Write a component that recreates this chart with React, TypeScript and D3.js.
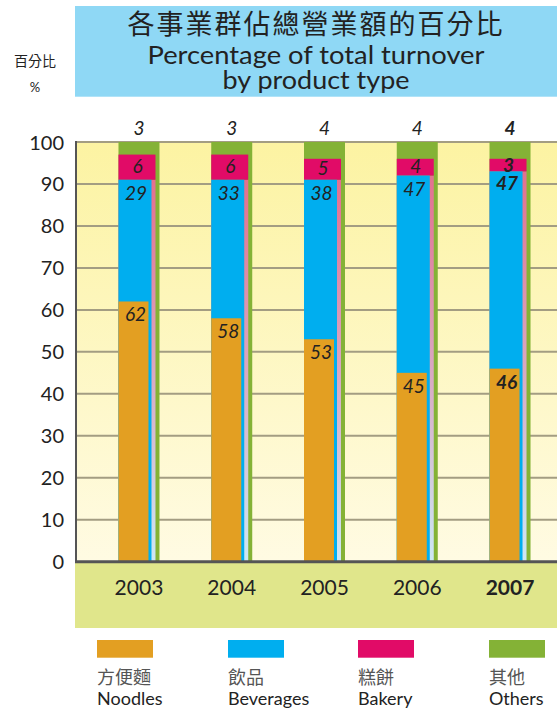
import React from 'react';
import * as d3 from 'd3';

const years = ["2003", "2004", "2005", "2006", "2007"];
const noodles = [62, 58, 53, 45, 46];
const beverages = [29, 33, 38, 47, 47];
const bakery = [6, 6, 5, 4, 3];
const others = [3, 3, 4, 4, 4];
const yTicks = [0, 10, 20, 30, 40, 50, 60, 70, 80, 90, 100];

const legendItems = [
  { zh: "方便麵", en: "Noodles", color: "#e39f22" },
  { zh: "飲品", en: "Beverages", color: "#00aeef" },
  { zh: "糕餅", en: "Bakery", color: "#e10b67" },
  { zh: "其他", en: "Others", color: "#84b236" }
];

const W = 557;
const H = 722;
const FONT = "Lato, 'Open Sans', sans-serif";
const CJK = "'Noto Sans CJK TC', 'Noto Sans CJK SC', sans-serif";

const App: React.FC = () => {
  const axisX = 76;
  const y = d3.scaleLinear().domain([0, 100]).range([561.7, 142]);
  const x = d3.scaleBand().domain(years).range([92.6, 556.4]);
  const step = x.step();
  const greenW = 41, pinkW = 37, blueW = 33, orangeW = 30;
  const barLeft = (yr: string) => (x(yr) as number) + (step - greenW) / 2;

  return (
    <div style={{ position: 'absolute', left: 0, top: 0 }}>
      <svg width={W} height={H} style={{ display: 'block', background: '#fff' }}>
        <defs>
          <linearGradient id="plotBg" x1="0" y1="0" x2="0" y2="1">
            <stop offset="0" stopColor="#fcf3a2" />
            <stop offset="1" stopColor="#fffbe3" />
          </linearGradient>
          <linearGradient id="pinkFade" x1="0" y1="0" x2="0" y2="1">
            <stop offset="0" stopColor="#e3708f" />
            <stop offset="0.5" stopColor="#d9a8c2" />
            <stop offset="1" stopColor="#cde8f5" />
          </linearGradient>
        </defs>

        {/* title box */}
        <rect x={75} y={6} width={W - 75} height={90.7} fill="#8fd8f5" />
        <text x={316} y={34} textAnchor="middle" fontFamily={CJK} fontSize={27}
          letterSpacing={2} fill="#222">各事業群佔總營業額的百分比</text>
        <text x={316} y={64} textAnchor="middle" fontFamily={FONT} fontSize={25}
          textLength={337} lengthAdjust="spacingAndGlyphs" fill="#222">Percentage of total turnover</text>
        <text x={316} y={89} textAnchor="middle" fontFamily={FONT} fontSize={25}
          textLength={187} lengthAdjust="spacingAndGlyphs" fill="#222">by product type</text>

        {/* y axis title */}
        <text x={35} y={66} textAnchor="middle" fontFamily={CJK} fontSize={14} fill="#222">百分比</text>
        <text x={35} y={92} textAnchor="middle" fontFamily={FONT} fontSize={13} fill="#222">%</text>

        {/* plot background */}
        <rect x={axisX} y={y(100)} width={W - axisX} height={y(0) - y(100)} fill="url(#plotBg)" />
        {/* bottom band */}
        <rect x={75} y={y(0)} width={W - 75} height={628 - y(0)} fill="#e0e68b" />

        {/* grid lines */}
        {yTicks.filter(t => t > 0).map(t => (
          <line key={t} x1={axisX} x2={W} y1={y(t)} y2={y(t)} stroke="#a39d82" strokeWidth={2} />
        ))}

        {/* y tick labels */}
        {yTicks.map(t => (
          <text key={t} x={64} y={y(t) + 7.5} textAnchor="end" fontFamily={FONT}
            fontSize={20} fill="#222">{t}</text>
        ))}

        {/* bars */}
        {years.map((yr, i) => {
          const L = barLeft(yr);
          const bevTop = noodles[i] + beverages[i];
          const bakTop = bevTop + bakery[i];
          const total = bakTop + others[i];
          return (
            <g key={yr}>
              <rect x={L} y={y(total)} width={greenW} height={y(0) - y(total)} fill="#84b236" />
              <rect x={L} y={y(bevTop)} width={pinkW} height={y(0) - y(bevTop)} fill="url(#pinkFade)" />
              <rect x={L} y={y(bakTop)} width={pinkW} height={y(bevTop) - y(bakTop)} fill="#e10b67" />
              <rect x={L} y={y(bevTop)} width={blueW} height={y(0) - y(bevTop)} fill="#00aeef" />
              <rect x={L} y={y(noodles[i])} width={orangeW} height={y(0) - y(noodles[i])} fill="#e39f22" />
            </g>
          );
        })}

        {/* axes */}
        <line x1={axisX} x2={axisX} y1={y(100) - 1} y2={y(0)} stroke="#555" strokeWidth={2} />
        <line x1={axisX - 1} x2={W} y1={y(0)} y2={y(0)} stroke="#555" strokeWidth={3} />

        {/* value labels */}
        {years.map((yr, i) => {
          const L = barLeft(yr);
          const bevTop = noodles[i] + beverages[i];
          const bakTop = bevTop + bakery[i];
          const total = bakTop + others[i];
          const last = i === years.length - 1;
          const common = {
            fontFamily: FONT, fontSize: 19, fontStyle: 'italic' as const,
            fontWeight: last ? 700 : 400, fill: '#222', textAnchor: 'middle' as const
          };
          const bakMid = (y(bevTop) + y(bakTop)) / 2;
          const small = bakery[i] <= 3;
          return (
            <g key={yr}>
              <text {...common} x={L + 20.5} y={y(total) - 7}>{others[i]}</text>
              <text {...common} x={L + 19} y={small ? y(bevTop) + 1 : bakMid + 6}>{bakery[i]}</text>
              <text {...common} x={L + 17.5} y={y(bevTop) + (small ? 19 : 20)}>{beverages[i]}</text>
              <text {...common} x={L + 17} y={y(noodles[i]) + 20}>{noodles[i]}</text>
            </g>
          );
        })}

        {/* year labels */}
        {years.map((yr, i) => (
          <text key={yr} x={barLeft(yr) + greenW / 2} y={595} textAnchor="middle"
            fontFamily={FONT} fontSize={21} fontWeight={i === years.length - 1 ? 700 : 400}
            fill="#222">{yr}</text>
        ))}

        {/* legend */}
        {legendItems.map((d, i) => {
          const lx = [97, 228, 358, 489][i];
          return (
            <g key={d.en}>
              <rect x={lx} y={640} width={56} height={17.7} fill={d.color} />
              <text x={lx} y={684} fontFamily={CJK} fontSize={18} fill="#555">{d.zh}</text>
              <text x={lx} y={705} fontFamily={FONT} fontSize={18} fill="#222">{d.en}</text>
            </g>
          );
        })}
      </svg>
    </div>
  );
};

export default App;
